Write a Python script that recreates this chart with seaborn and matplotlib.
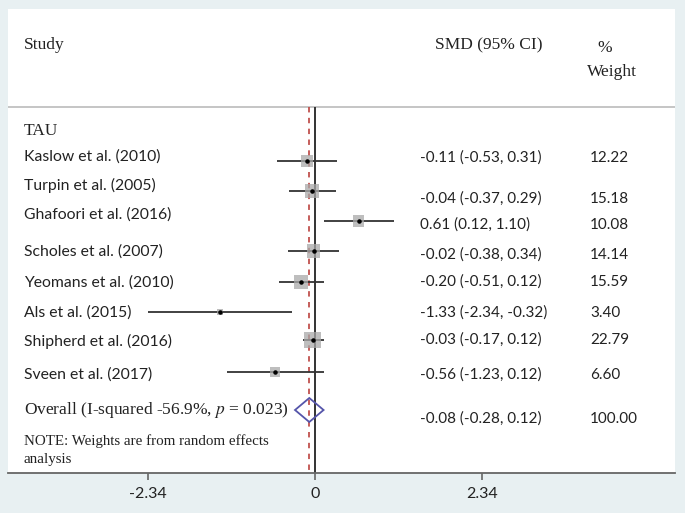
import matplotlib
matplotlib.use("Agg")
import matplotlib.pyplot as plt
import seaborn as sns
import numpy as np
import pandas as pd

# ---- data ----
studies = ["Kaslow et al. (2010)", "Turpin et al. (2005)", "Ghafoori et al. (2016)",
           "Scholes et al. (2007)", "Yeomans et al. (2010)", "Als et al. (2015)",
           "Shipherd et al. (2016)", "Sveen et al. (2017)"]
smd = [-0.11, -0.04, 0.61, -0.02, -0.20, -1.33, -0.03, -0.56]
ci_low = [-0.53, -0.37, 0.12, -0.38, -0.51, -2.34, -0.17, -1.23]
ci_high = [0.31, 0.29, 1.10, 0.34, 0.12, -0.32, 0.12, 0.12]
weights = [12.22, 15.18, 10.08, 14.14, 15.59, 3.40, 22.79, 6.60]
overall_smd = -0.08
overall_low = -0.28
overall_high = 0.12
overall_weight = 100.00
xticks = [-2.34, 0, 2.34]
xticklabels = ["-2.34", "0", "2.34"]

# ---- layout (pixel rows, top-down) ----
name_rows = [157, 185, 215, 252, 283, 313, 341, 375]
mark_rows = [161, 191, 221, 251, 282, 312, 340, 372]
val_rows = [158, 199, 225, 255, 282, 313, 340, 375]
overall_row = 410
overall_val_row = 419

W, H = 685, 513
fig = plt.figure(figsize=(W / 100, H / 100), dpi=100)
sns.set_theme(style="white")
bg = "#e8f0f2"
fig.patch.set_facecolor(bg)

left_px, right_px, top_px, bot_px = 8, 675, 9, 473
ax = fig.add_axes([left_px / W, 1 - bot_px / H, (right_px - left_px) / W, (bot_px - top_px) / H])
ax.set_facecolor("white")
ppu = 167 / 2.34
x0 = 315
ax.set_xlim((left_px - x0) / ppu, (right_px - x0) / ppu)
ax.set_ylim(bot_px, top_px)

serif = "Liberation Serif"
sans = "Lato"
tc = "#222222"


def px2x(px):
    return (px - x0) / ppu


# header
ax.text(px2x(24), 45, "Study", family=serif, fontsize=12.5, va="center", color=tc)
ax.text(px2x(435), 45, "SMD (95% CI)", family=serif, fontsize=12.5, va="center", color=tc)
ax.text(px2x(605), 48, "%", family=serif, fontsize=12.5, va="center", ha="center", color=tc)
ax.text(px2x(612), 72, "Weight", family=serif, fontsize=12.5, va="center", ha="center", color=tc)
ax.axhline(107, color="#bbbbbb", lw=1.2)

# reference lines
ax.vlines(0, 107, bot_px, color="#333333", lw=1.4)
ax.vlines(overall_smd, 107, bot_px, color="#c0504d", lw=1.3, linestyles=(0, (3, 3)))

ax.text(px2x(24), 131, "TAU", family=serif, fontsize=12.5, va="center", color=tc)

# CIs
ax.hlines(mark_rows, ci_low, ci_high, color="#333333", lw=1.3)
df = pd.DataFrame({"smd": smd, "row": mark_rows, "w": weights})
sns.scatterplot(data=df, x="smd", y="row", size="w", sizes=(3.4 * 6.5, 22.79 * 6.5),
                size_norm=(3.4, 22.79), marker="s", color="#a8a8a8", alpha=0.75,
                edgecolor="none", legend=False, ax=ax, zorder=3)
ax.scatter(smd, mark_rows, s=5, color="black", zorder=4)

for name, r, v, lo, hi, w, vr in zip(studies, name_rows, smd, ci_low, ci_high, weights, val_rows):
    ax.text(px2x(24), r, name, family=sans, fontsize=11.3, va="center", color=tc)
    ax.text(px2x(420), vr, f"{v:.2f} ({lo:.2f}, {hi:.2f})", family=sans, fontsize=11,
            va="center", color=tc)
    ax.text(px2x(590), vr, f"{w:.2f}", family=sans, fontsize=11, va="center", color=tc)

# overall diamond
ax.fill([overall_low, overall_smd, overall_high, overall_smd],
        [overall_row, overall_row - 12, overall_row, overall_row + 12],
        facecolor="none", edgecolor="#5555aa", lw=1.3, zorder=4)
ax.text(px2x(24), overall_row, "Overall (I-squared -56.9%, $p$ = 0.023)", family=serif,
        fontsize=12.5, va="center", color=tc, math_fontfamily="stix")
ax.text(px2x(420), overall_val_row, f"{overall_smd:.2f} ({overall_low:.2f}, {overall_high:.2f})",
        family=sans, fontsize=11, va="center", color=tc)
ax.text(px2x(590), overall_val_row, f"{overall_weight:.2f}", family=sans, fontsize=11,
        va="center", color=tc)

ax.text(px2x(24), 441, "NOTE: Weights are from random effects", family=serif, fontsize=10.8,
        va="center", color=tc)
ax.text(px2x(24), 459, "analysis", family=serif, fontsize=10.8, va="center", color=tc)

# axes styling
for s in ["top", "left", "right"]:
    ax.spines[s].set_visible(False)
ax.spines["bottom"].set_color("#666666")
ax.spines["bottom"].set_linewidth(1.3)
ax.set_yticks([])
ax.set_xticks(xticks)
ax.set_xticklabels(xticklabels, family=sans, fontsize=11.5, color=tc)
ax.tick_params(axis="x", direction="out", length=5, width=1.2, color="#666666", pad=5,
               bottom=True)
ax.set_xlabel("")
ax.set_ylabel("")

fig.savefig("out.png", dpi=100, facecolor=bg)
